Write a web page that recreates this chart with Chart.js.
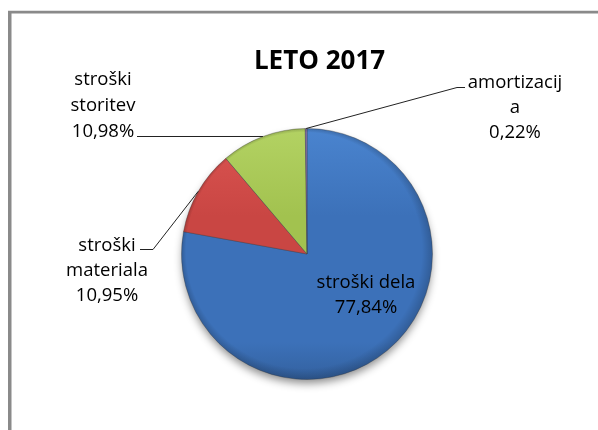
<!DOCTYPE html>
<html>
<head>
<meta charset="utf-8">
<script src="https://cdn.jsdelivr.net/npm/chart.js@4"></script>
<style>
  html, body { margin: 0; padding: 0; background: #ffffff; }
  #wrap { width: 598px; height: 430px; position: relative; }
</style>
</head>
<body>
<div id="wrap"><canvas id="c" width="598" height="430"></canvas></div>
<script>
// ---- data ----
const chartTitle = "LETO 2017";
const categories = ["stroški dela", "stroški materiala", "stroški storitev", "amortizacija"];
const values = [77.84, 10.95, 10.98, 0.22];
const labelLines = [["stroški dela"], ["stroški", "materiala"], ["stroški", "storitev"], ["amortizacij", "a"]];

// ---- styles ----
const baseColors = [
  ["#4a84cf", "#3c71b9", "#33619f"],
  ["#dc5552", "#c94643", "#a83835"],
  ["#b3d263", "#a2c24f", "#86a53d"],
  ["#8f75b0", "#8064a2", "#6a528a"]
];

function fmtPct(v) { return v.toFixed(2).replace(".", ",") + "%"; }

function sliceFill(ctx) {
  const chart = ctx.chart;
  const area = chart.chartArea;
  if (!area) return baseColors[ctx.dataIndex][1];
  const c = baseColors[ctx.dataIndex];
  const g = chart.ctx.createLinearGradient(0, area.top, 0, area.bottom);
  g.addColorStop(0, c[0]);
  g.addColorStop(0.35, c[1]);
  g.addColorStop(0.85, c[1]);
  g.addColorStop(1, c[2]);
  return g;
}

// frame + shadow + title + labels
const decor = {
  id: "decor",
  beforeDraw(chart) {
    const ctx = chart.ctx;
    ctx.save();
    ctx.fillStyle = "#ffffff";
    ctx.fillRect(0, 0, chart.width, chart.height);
    ctx.fillStyle = "#e2e2e2";
    ctx.fillRect(8, 10, chart.width - 8, 1);
    ctx.fillStyle = "#8a8a8a";
    ctx.fillRect(8, 11, chart.width - 8, 2.5);
    ctx.fillRect(8, 11, 3.5, chart.height - 11);
    ctx.restore();
  },
  beforeDatasetsDraw(chart) {
    const arc = chart.getDatasetMeta(0).data[0];
    if (!arc) return;
    const ctx = chart.ctx;
    ctx.save();
    ctx.shadowColor = "rgba(0,0,0,0.45)";
    ctx.shadowBlur = 9;
    ctx.shadowOffsetY = 5;
    ctx.beginPath();
    ctx.arc(arc.x, arc.y, arc.outerRadius - 1, 0, Math.PI * 2);
    ctx.fillStyle = "#3c71b9";
    ctx.fill();
    ctx.restore();
  },
  afterDatasetsDraw(chart) {
    const ctx = chart.ctx;
    const arcs = chart.getDatasetMeta(0).data;
    // rim shading (bevel look)
    const a0 = arcs[0];
    ctx.save();
    const rg = ctx.createRadialGradient(a0.x - 10, a0.y - 12, a0.outerRadius * 0.8, a0.x, a0.y, a0.outerRadius);
    rg.addColorStop(0, "rgba(0,0,0,0)");
    rg.addColorStop(0.7, "rgba(0,0,0,0)");
    rg.addColorStop(1, "rgba(0,0,0,0.18)");
    ctx.beginPath();
    ctx.arc(a0.x, a0.y, a0.outerRadius, 0, Math.PI * 2);
    ctx.fillStyle = rg;
    ctx.fill();
    ctx.restore();

    const layout = [
      { x: 366, base: [288, 313], leader: null },
      { x: 107, base: [251, 276, 301], leader: [[140, 249.5], [153, 249.5]] },
      { x: 103, base: [85, 111, 137], leader: [[137, 136.5]] },
      { x: 515, base: [88, 113, 138], leader: [[465, 87.5], [457, 87.5]] }
    ];
    ctx.save();
    // leaders
    ctx.strokeStyle = "#222";
    ctx.lineWidth = 1;
    layout.forEach((L, i) => {
      if (!L.leader) return;
      const a = arcs[i];
      const mid = (a.startAngle + a.endAngle) / 2;
      const px = a.x + Math.cos(mid) * a.outerRadius;
      const py = a.y + Math.sin(mid) * a.outerRadius;
      ctx.beginPath();
      ctx.moveTo(L.leader[0][0], L.leader[0][1]);
      for (let k = 1; k < L.leader.length; k++) ctx.lineTo(L.leader[k][0], L.leader[k][1]);
      ctx.lineTo(px, py);
      ctx.stroke();
    });
    // texts
    ctx.fillStyle = "#000";
    ctx.font = "18.5px 'Open Sans'";
    ctx.textAlign = "center";
    ctx.textBaseline = "alphabetic";
    layout.forEach((L, i) => {
      const lines = labelLines[i].concat([fmtPct(values[i])]);
      lines.forEach((t, k) => ctx.fillText(t, L.x, L.base[k]));
    });
    // title
    ctx.font = "bold 26px 'Open Sans'";
    ctx.fillText(chartTitle, 319.5, 69);
    ctx.restore();
  }
};

new Chart(document.getElementById("c"), {
  type: "pie",
  data: {
    labels: categories,
    datasets: [{
      data: values,
      backgroundColor: sliceFill,
      borderColor: "rgba(60,60,60,0.35)",
      borderWidth: 1
    }]
  },
  options: {
    responsive: false,
    animation: false,
    devicePixelRatio: 1,
    events: [],
    layout: { padding: { left: 181, right: 165, top: 128, bottom: 50 } },
    plugins: {
      legend: { display: false },
      title: { display: false },
      tooltip: { enabled: false }
    }
  },
  plugins: [decor]
});
</script>
</body>
</html>
